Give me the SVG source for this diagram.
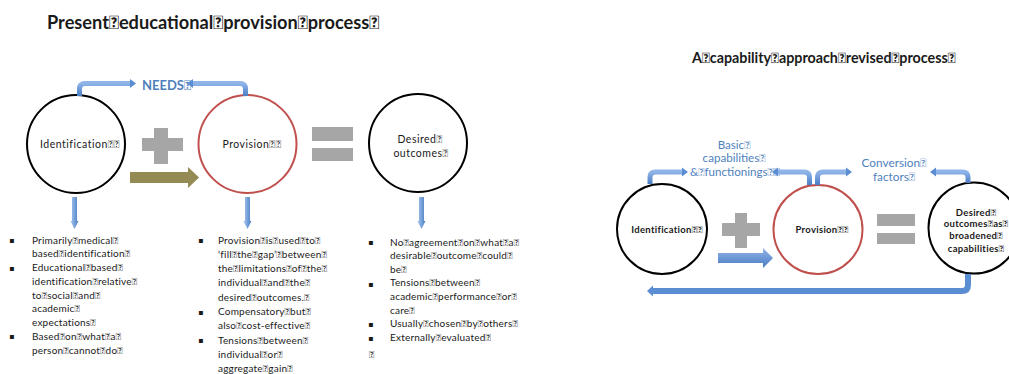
<svg xmlns="http://www.w3.org/2000/svg" width="1009" height="374" viewBox="0 0 1009 374">
<defs>
<style>
.f{font-family:Lato,'Liberation Sans',sans-serif}
.title{font-weight:bold;fill:#1a1a1a}
.lbl{font-size:10.5px;fill:#1a1a1a;letter-spacing:0.5px}
.lblb{font-size:9.5px;font-weight:bold;fill:#1a1a1a;letter-spacing:0.3px}
.blue{fill:#4f81bd}
.body{font-size:10px;fill:#1a1a1a;letter-spacing:0.2px}
.bul{font-family:'DejaVu Sans',sans-serif;font-size:8px;fill:#1a1a1a}
.cb{fill:none;stroke:#000;stroke-width:2}
.cr{fill:none;stroke:#c0504d;stroke-width:2}
.grey{fill:#a6a6a6}
.bent{fill:none;stroke:url(#gb);stroke-width:5}
</style>
<linearGradient id="gb" x1="0" y1="0" x2="0" y2="1">
<stop offset="0" stop-color="#8fb4e8"/><stop offset="1" stop-color="#4a7ec4"/>
</linearGradient>
<linearGradient id="gd" x1="0" y1="0" x2="1" y2="0">
<stop offset="0" stop-color="#a7c5f0"/><stop offset="1" stop-color="#4a7ec4"/>
</linearGradient>
<linearGradient id="gr" x1="0" y1="0" x2="0" y2="1">
<stop offset="0" stop-color="#93b7ea"/><stop offset="1" stop-color="#4879c0"/>
</linearGradient>
<marker id="ah" markerUnits="userSpaceOnUse" markerWidth="8" markerHeight="12" refX="0" refY="6" orient="auto" viewBox="0 0 8 12">
<path d="M0,1.5 L6,6 L0,10.5 Z" fill="#5b8dd3"/>
</marker>
<marker id="ah2" markerUnits="userSpaceOnUse" markerWidth="8" markerHeight="14" refX="0" refY="7" orient="auto" viewBox="0 0 8 14">
<path d="M0,1.5 L6,7 L0,12.5 Z" fill="#5b8dd3"/>
</marker>
</defs>
<rect width="1009" height="374" fill="#fff"/>

<text class="f title" x="47" y="29" font-size="18.2">Present&#xF020;educational&#xF020;provision&#xF020;process&#xF020;</text>
<text class="f title" x="692" y="63" font-size="14.3">A&#xF020;capability&#xF020;approach&#xF020;revised&#xF020;process&#xF020;</text>

<g id="left-identification">
<circle class="cb" cx="76" cy="144" r="49"/>
<text class="f lbl" x="80" y="148" text-anchor="middle">Identification&#xF020;&#xF020;</text>
</g>
<g id="left-provision">
<circle class="cr" cx="247.5" cy="144" r="49"/>
<text class="f lbl" x="252" y="148" text-anchor="middle">Provision&#xF020;&#xF020;</text>
</g>
<g id="left-outcomes">
<circle class="cb" cx="418" cy="143" r="49"/>
<text class="f lbl" x="420" y="143" text-anchor="middle">Desired&#xF020;</text>
<text class="f lbl" x="421" y="157" text-anchor="middle">outcomes&#xF020;</text>
</g>
<g id="left-plus">
<rect class="grey" x="154" y="128" width="14" height="36"/>
<rect class="grey" x="142" y="138" width="41" height="13"/>
</g>
<g id="left-equals">
<rect class="grey" x="312" y="127" width="41" height="14"/>
<rect class="grey" x="312" y="148" width="41" height="13"/>
</g>
<g id="needs-label">
<text class="f blue" x="142" y="90" font-size="13" font-weight="bold">NEEDS&#xF020;</text>
</g>

<g id="right-identification">
<circle class="cb" cx="662" cy="229" r="45"/>
<text class="f lblb" x="667" y="233" text-anchor="middle">Identification&#xF020;&#xF020;</text>
</g>
<g id="right-provision">
<circle class="cr" cx="818" cy="229.5" r="44.5"/>
<text class="f lblb" x="822" y="233" text-anchor="middle">Provision&#xF020;&#xF020;</text>
</g>
<g id="right-outcomes">
<circle class="cb" cx="974" cy="228" r="45.5"/>
<text class="f lblb" x="976" y="215.5" text-anchor="middle">Desired&#xF020;</text>
<text class="f lblb" x="976" y="227" text-anchor="middle">outcomes&#xF020;as&#xF020;</text>
<text class="f lblb" x="976" y="239" text-anchor="middle">broadened&#xF020;</text>
<text class="f lblb" x="976" y="251.5" text-anchor="middle">capabilities&#xF020;</text>
</g>
<g id="right-plus">
<rect class="grey" x="735" y="213" width="12" height="35"/>
<rect class="grey" x="722" y="223" width="38" height="13"/>
</g>
<g id="right-equals">
<rect class="grey" x="877" y="214" width="38" height="12"/>
<rect class="grey" x="877" y="233" width="38" height="11"/>
</g>
<g id="basic-label">
<text class="f blue" font-size="11.6" text-anchor="middle" x="734" y="149">Basic&#xF020;</text>
<text class="f blue" font-size="11.6" text-anchor="middle" x="734" y="162">capabilities&#xF020;</text>
<text class="f blue" font-size="11.6" text-anchor="middle" x="735" y="176">&amp;&#xF020;functionings&#xF020;&#xF020;</text>
</g>
<g id="conversion-label">
<text class="f blue" font-size="11.8" text-anchor="middle" x="894" y="167">Conversion&#xF020;</text>
<text class="f blue" font-size="11.8" text-anchor="middle" x="894" y="181">factors&#xF020;</text>
</g>

<g id="connectors">
<path class="bent" d="M79.5,96 V89 Q79.5,83.5 85,83.5 H130" marker-end="url(#ah)"/>
<path class="bent" d="M245.5,96 V89 Q245.5,83.5 240,83.5 H193" marker-end="url(#ah)"/>
<polygon points="130,172 188,172 188,167 199,177.5 188,188 188,183 130,183" fill="#948a54"/>
<polygon points="72,197 77,197 77,221 78.5,221 74.5,229 70.5,221 72,221" fill="url(#gd)"/>
<polygon points="245,197 250,197 250,221 251.5,221 247.5,229 243.5,221 245,221" fill="url(#gd)"/>
<polygon points="419,197 424,197 424,221 425.5,221 421.5,229 417.5,221 419,221" fill="url(#gd)"/>

<path class="bent" d="M650,184 V177.5 Q650,172 655.5,172 H682" marker-end="url(#ah)"/>
<path class="bent" d="M809.5,185 V177.5 Q809.5,172 804,172 H778" marker-end="url(#ah)"/>
<path class="bent" d="M817.5,185 V177.5 Q817.5,172 823,172 H846" marker-end="url(#ah)"/>
<path class="bent" d="M968,183 V177.5 Q968,172 962.5,172 H936" marker-end="url(#ah)"/>
<path fill="none" stroke="#5b8dd3" stroke-width="6" d="M968,274 V285 Q968,291 962,291 H653" marker-end="url(#ah2)"/>
<polygon points="718,253 763,253 763,248 773,258 763,268 763,263 718,263" fill="url(#gr)"/>
</g>

<g id="list-identification">
<text class="bul" x="9" y="243">▪</text>
<text class="bul" x="9" y="270.5">▪</text>
<text class="bul" x="9" y="339">▪</text>
<text class="f body" x="32">
<tspan x="32" y="243.5">Primarily&#xF020;medical&#xF020;</tspan>
<tspan x="32" y="257.2">based&#xF020;identification&#xF020;</tspan>
<tspan x="32" y="271">Educational&#xF020;based&#xF020;</tspan>
<tspan x="32" y="284.7">identification&#xF020;relative&#xF020;</tspan>
<tspan x="32" y="298.5">to&#xF020;social&#xF020;and&#xF020;</tspan>
<tspan x="32" y="312.2">academic&#xF020;</tspan>
<tspan x="32" y="326">expectations&#xF020;</tspan>
<tspan x="32" y="339.7">Based&#xF020;on&#xF020;what&#xF020;a&#xF020;</tspan>
<tspan x="32" y="353.5">person&#xF020;cannot&#xF020;do&#xF020;</tspan>
</text>
</g>
<g id="list-provision">
<text class="bul" x="198" y="243">▪</text>
<text class="bul" x="198" y="315">▪</text>
<text class="bul" x="198" y="343">▪</text>
<text class="f body" x="218">
<tspan x="218" y="243.5">Provision&#xF020;is&#xF020;used&#xF020;to&#xF020;</tspan>
<tspan x="218" y="257.8">‘fill&#xF020;the&#xF020;gap’&#xF020;between&#xF020;</tspan>
<tspan x="218" y="272.1">the&#xF020;limitations&#xF020;of&#xF020;the&#xF020;</tspan>
<tspan x="218" y="286.4">individual&#xF020;and&#xF020;the&#xF020;</tspan>
<tspan x="218" y="300.7">desired&#xF020;outcomes.&#xF020;</tspan>
<tspan x="218" y="315">Compensatory&#xF020;but&#xF020;</tspan>
<tspan x="218" y="329.3">also&#xF020;cost-effective&#xF020;</tspan>
<tspan x="218" y="343.6">Tensions&#xF020;between&#xF020;</tspan>
<tspan x="218" y="357.9">individual&#xF020;or&#xF020;</tspan>
<tspan x="218" y="372.2">aggregate&#xF020;gain&#xF020;</tspan>
</text>
</g>
<g id="list-outcomes">
<text class="bul" x="368" y="245">▪</text>
<text class="bul" x="368" y="286.5">▪</text>
<text class="bul" x="368" y="327">▪</text>
<text class="bul" x="368" y="340.5">▪</text>
<text class="f body" x="390">
<tspan x="390" y="245.5">No&#xF020;agreement&#xF020;on&#xF020;what&#xF020;a&#xF020;</tspan>
<tspan x="390" y="259.1">desirable&#xF020;outcome&#xF020;could&#xF020;</tspan>
<tspan x="390" y="272.7">be&#xF020;</tspan>
<tspan x="390" y="286.3">Tensions&#xF020;between&#xF020;</tspan>
<tspan x="390" y="299.9">academic&#xF020;performance&#xF020;or&#xF020;</tspan>
<tspan x="390" y="313.5">care&#xF020;</tspan>
<tspan x="390" y="327.1">Usually&#xF020;chosen&#xF020;by&#xF020;others&#xF020;</tspan>
<tspan x="390" y="340.7">Externally&#xF020;evaluated&#xF020;</tspan>
<tspan x="369" y="357.5">&#xF020;</tspan>
</text>
</g>
</svg>
